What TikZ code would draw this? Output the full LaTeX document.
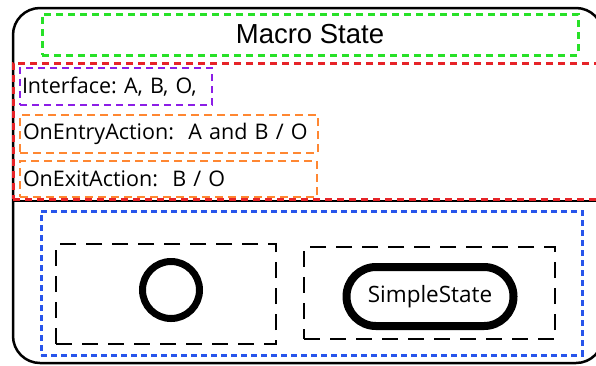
\documentclass[tikz,border=0pt]{standalone}
\usepackage{fontspec}
\setmainfont{Open Sans}
\newfontfamily\arialfont{Liberation Sans}
\frenchspacing
\definecolor{cgreen}{RGB}{40,225,40}
\definecolor{cred}{RGB}{230,35,40}
\definecolor{cpurple}{RGB}{140,30,230}
\definecolor{corange}{RGB}{255,135,50}
\definecolor{cblue}{RGB}{40,85,235}
\tikzset{
  box/.style={draw, rectangle, inner sep=0pt, outer sep=0pt},
  greenbox/.style={box, draw=cgreen, line width=3pt, dash pattern=on 7pt off 5pt},
  redbox/.style={box, draw=cred, line width=3pt, dash pattern=on 7pt off 5pt},
  purplebox/.style={box, draw=cpurple, line width=2.5pt, dash pattern=on 7pt off 5pt, inner xsep=2pt, align=left, font=\fontsize{21.5}{24}\selectfont\frenchspacing},
  orangebox/.style={box, draw=corange, line width=2pt, dash pattern=on 8pt off 5pt, inner xsep=3pt, align=left, font=\fontsize{21.5}{24}\selectfont\frenchspacing},
  bluebox/.style={box, draw=cblue, line width=3pt, dash pattern=on 6pt off 4pt},
  blackdash/.style={box, draw=black, line width=2pt, dash pattern=on 16pt off 10pt},
  outerbox/.style={draw=black, line width=2.5pt, rounded corners=27pt},
}
\begin{document}
\begin{tikzpicture}[x=1pt,y=-1pt]
\useasboundingbox (0,0) rectangle (596,365);
\clip (0,0) rectangle (596,365);
\draw[outerbox] (13,8) rectangle (603,363);
\coordinate (divL) at (13,201);
\coordinate (divR) at (603,201);
\draw[line width=2pt] (divL) -- (divR);
\node[greenbox, minimum width=536pt, minimum height=41pt, font=\arialfont\fontsize{27.5}{30}\selectfont] (title) at (310,34.5) {Macro State};
\node[redbox, minimum width=592pt, minimum height=136pt] (attrs) at (309,131) {};
\node[purplebox, text width=188pt, minimum height=37pt] (iface) at (116,86.5) {Interface: A, B, O,};
\node[orangebox, text width=292pt, minimum height=38pt] (entry) at (169,134) {OnEntryAction:\ \ A and B / O};
\node[orangebox, text width=291pt, minimum height=36pt] (exit) at (168.5,179) {OnExitAction:\ \ B / O};
\node[bluebox, minimum width=541pt, minimum height=144pt] (region) at (311.5,283) {};
\node[blackdash, minimum width=220pt, minimum height=100pt] (left) at (166,294) {};
\node[blackdash, minimum width=251pt, minimum height=92pt] (right) at (429.5,293) {};
\node[draw, circle, line width=7pt, minimum size=57pt, inner sep=0pt] (final) at (171,290) {};
\node[draw, line width=8pt, rounded corners=29.5pt, minimum width=167pt, minimum height=59pt, inner sep=0pt, font=\fontsize{22.5}{24}\selectfont] (simple) at (430,296.5) {SimpleState};
\end{tikzpicture}
\end{document}
